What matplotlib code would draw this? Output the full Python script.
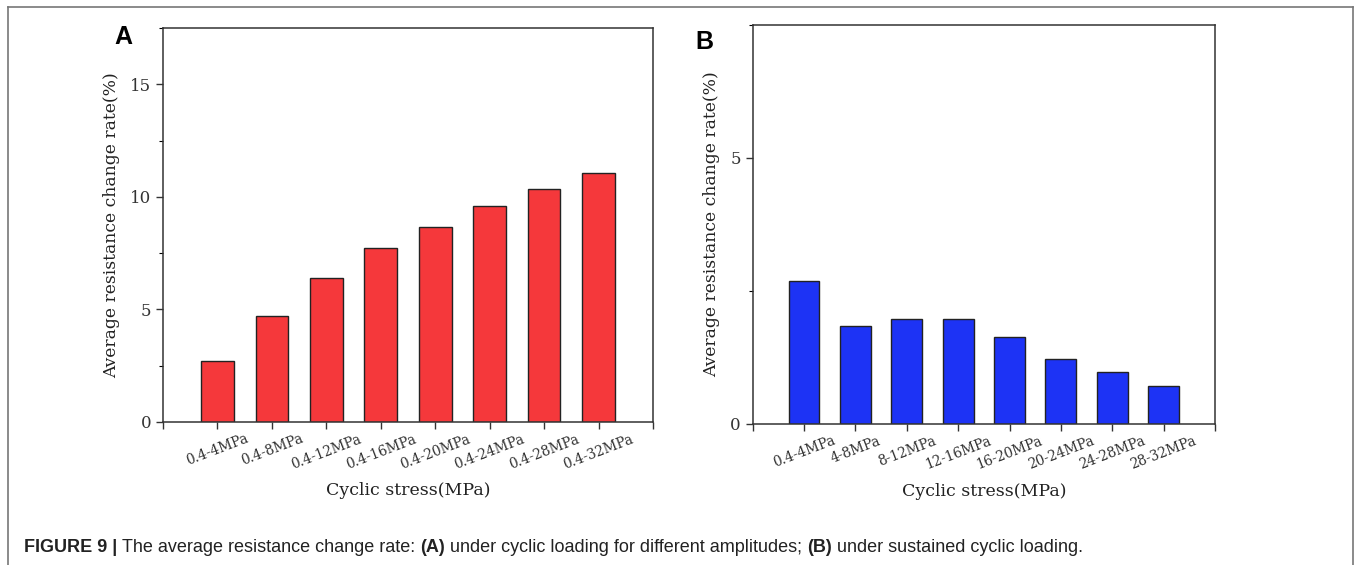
import matplotlib
matplotlib.use("Agg")
import matplotlib.pyplot as plt
from matplotlib.lines import Line2D
from matplotlib.ticker import MultipleLocator

# Average resistance change rate (%) for each cyclic stress range
amplitude_labels = ['0.4-4MPa', '0.4-8MPa', '0.4-12MPa', '0.4-16MPa',
                    '0.4-20MPa', '0.4-24MPa', '0.4-28MPa', '0.4-32MPa']
amplitude_rates = [2.72, 4.72, 6.41, 7.72, 8.68, 9.60, 10.37, 11.07]

sustained_labels = ['0.4-4MPa', '4-8MPa', '8-12MPa', '12-16MPa',
                    '16-20MPa', '20-24MPa', '24-28MPa', '28-32MPa']
sustained_rates = [2.69, 1.85, 1.98, 1.98, 1.63, 1.22, 0.97, 0.72]

serif = 'DejaVu Serif'
sans = 'Liberation Sans'


def draw_panel(ax, labels, values, color, ymax):
    x = list(range(1, len(values) + 1))
    ax.bar(x, values, width=0.6, color=color, edgecolor='#222222', linewidth=1.0)
    ax.set_xlim(0, len(values) + 1)
    ax.set_ylim(0, ymax)
    ax.set_xticks([0] + x + [len(values) + 1])
    ax.set_xticklabels([''] + labels + [''], rotation=21, ha='center',
                       family=serif, fontsize=9.8, color='#333333')
    ax.yaxis.set_major_locator(MultipleLocator(5))
    ax.yaxis.set_minor_locator(MultipleLocator(2.5))
    ax.tick_params(axis='both', direction='out', length=5, width=1,
                   colors='#333333')
    ax.tick_params(axis='x', pad=2)
    ax.tick_params(axis='y', labelsize=12)
    ax.tick_params(axis='y', which='minor', length=3, width=0.8)
    for lbl in ax.get_yticklabels():
        lbl.set_family(serif)
    for spine in ax.spines.values():
        spine.set_linewidth(1.1)
        spine.set_color('#333333')
    ax.set_xlabel('Cyclic stress(MPa)', family=serif, fontsize=12.5,
                  color='#222222', labelpad=8)
    ax.set_ylabel('Average resistance change rate(%)', family=serif,
                  fontsize=12.3, color='#222222', labelpad=7)


fig = plt.figure(figsize=(13.56, 5.65), dpi=100)

ax_a = fig.add_axes([0.1202, 0.2531, 0.3614, 0.6973])
ax_b = fig.add_axes([0.5551, 0.2496, 0.3409, 0.7062])

draw_panel(ax_a, amplitude_labels, amplitude_rates, '#F5383B', 17.5)
draw_panel(ax_b, sustained_labels, sustained_rates, '#1D33F5', 7.5)

# panel letters
fig.text(0.084, 0.935, 'A', family=sans, fontweight='bold', fontsize=18,
         ha='left', va='center')
fig.text(0.513, 0.925, 'B', family=sans, fontweight='bold', fontsize=18,
         ha='left', va='center')

# outer frame (open at the bottom)
frame_color = '#777777'
fl, fr, ft = 8 / 1356, 1353 / 1356, 1 - 6.5 / 565
for xs, ys in [([fl, fl], [0, ft]), ([fl, fr], [ft, ft]), ([fr, fr], [ft, 0])]:
    fig.add_artist(Line2D(xs, ys, transform=fig.transFigure,
                          color=frame_color, linewidth=1.2))

# caption with bold figure number and panel references
pieces = [('FIGURE 9 | ', 'bold'),
          ('The average resistance change rate: ', 'normal'),
          ('(A)', 'bold'),
          (' under cyclic loading for different amplitudes; ', 'normal'),
          ('(B)', 'bold'),
          (' under sustained cyclic loading.', 'normal')]
y_fig = 1 - 552 / 565
texts = [fig.text(24 / 1356, y_fig, txt, family=sans, fontweight=weight,
                  fontsize=13, color='#222222', ha='left', va='baseline')
         for txt, weight in pieces]
fig.canvas.draw()
renderer = fig.canvas.get_renderer()
x_px = texts[0].get_window_extent(renderer).x1
for t in texts[1:]:
    t.set_position((x_px / fig.bbox.width, y_fig))
    x_px = t.get_window_extent(renderer).x1

fig.savefig('out.png', dpi=100)
